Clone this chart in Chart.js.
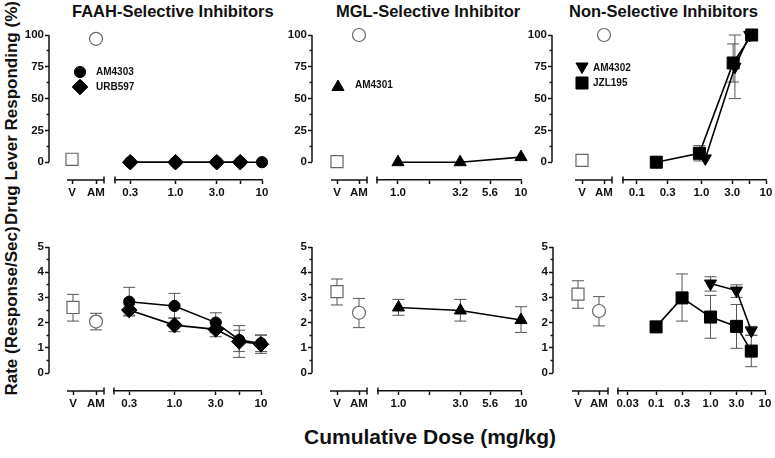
<!DOCTYPE html>
<html><head><meta charset="utf-8">
<script src="https://cdn.jsdelivr.net/npm/chart.js@4.4.1/dist/chart.umd.min.js"></script>
<style>
html,body{margin:0;padding:0;background:#fff;}
#stage{position:relative;width:775px;height:458px;overflow:hidden;background:#fff;font-family:"Liberation Sans",Arial,sans-serif;}
#stage canvas{position:absolute;}
.txt{position:absolute;font-weight:bold;color:#111;white-space:nowrap;}
.ttl{top:3px;font-size:16.5px;line-height:16px;}
.ylab{width:300px;left:-138px;text-align:center;font-size:17px;line-height:20px;transform:rotate(-90deg);}
</style></head>
<body><div id="stage">
<div class="txt ttl" style="left:72px;">FAAH-Selective Inhibitors</div>
<div class="txt ttl" style="left:336px;">MGL-Selective Inhibitor</div>
<div class="txt ttl" style="left:569px;">Non-Selective Inhibitors</div>
<div class="txt ylab" style="top:103px;">Drug Lever Responding (%)</div>
<div class="txt ylab" style="top:301px;">Rate (Response/Sec)</div>
<div class="txt" style="left:230px;width:400px;text-align:center;top:425px;font-size:21px;line-height:24px;">Cumulative Dose (mg/kg)</div>
</div>
<script>
// ---------------- DATA ----------------
const ctrlLabels = ["V", "AM"];
const ctrlX = [0, 1];

const pctTicks = [0, 25, 50, 75, 100];
const pctMinorTicks = [12.5, 37.5, 62.5, 87.5];
const rateTicks = [0, 1, 2, 3, 4, 5];
const rateMinorTicks = [0.5, 1.5, 2.5, 3.5, 4.5];

const faahTicks = [0.3, 1, 3, 5.6, 10];
const faahTickLabels = ["0.3", "1.0", "3.0", "", "10"];
const mglTicks = [1, 1.8, 3.2, 5.6, 10];
const mglTickLabelsTop = ["1.0", "", "3.2", "5.6", "10"];
const mglTickLabelsBottom = ["1.0", "", "3.0", "5.6", "10"];
const nsTicksTop = [0.1, 0.3, 1, 3, 5.6, 10];
const nsTickLabelsTop = ["0.1", "0.3", "1.0", "3.0", "", "10"];
const nsTicksBottom = [0.03, 0.1, 0.3, 1, 3, 5.6, 10];
const nsTickLabelsBottom = ["0.03", "0.1", "0.3", "1.0", "3.0", "", "10"];

// Top row: drug lever responding (%)
const faahDose = [0.3, 1.0, 3.0, 5.6, 10];
const faahURB597DoseTop = [0.3, 1.0, 3.0, 5.6];
const faahCtrlPct = [2.3, 97];
const faahAM4303Pct = [0, 0, 0, 0, 0];
const faahURB597Pct = [0, 0, 0, 0];

const mglDose = [1.0, 3.2, 10];
const mglCtrlPct = [0.5, 100];
const mglAM4301Pct = [0, 0, 4];

const nsCtrlPct = [1.5, 100];
const nsJZL195DoseTop = [0.2, 0.93, 3.1, 6.0];
const nsJZL195Pct = [0, 7, 78, 100];
const nsJZL195PctErr = [null, [1, 13], [63, 93], null];
const nsAM4302DoseTop = [1.15, 3.3, 5.6];
const nsAM4302Pct = [3, 75, 100];
const nsAM4302PctErr = [null, [50, 100], null];

// Bottom row: rate (response/sec)
const faahCtrlRate = [2.6, 2.04];
const faahCtrlRateErr = [[2.06, 3.12], [1.71, 2.37]];
const faahAM4303Rate = [2.83, 2.66, 2.0, 1.31, 1.18];
const faahAM4303RateErr = [[2.26, 3.4], [2.18, 3.16], [1.61, 2.39], [0.62, 1.88], [0.85, 1.5]];
const faahURB597Rate = [2.5, 1.9, 1.73, 1.25, 1.14];
const faahURB597RateErr = [[2.3, 2.7], [1.64, 2.18], [1.44, 2.02], [0.85, 1.7], [0.78, 1.51]];

const mglCtrlRate = [3.23, 2.39];
const mglCtrlRateErr = [[2.7, 3.73], [1.8, 2.96]];
const mglAM4301Rate = [2.6, 2.48, 2.1];
const mglAM4301RateErr = [[2.29, 2.92], [2.06, 2.92], [1.61, 2.63]];

const nsCtrlRate = [3.13, 2.46];
const nsCtrlRateErr = [[2.57, 3.66], [1.87, 3.03]];
const nsJZL195DoseBottom = [0.1, 0.3, 1.0, 3.0, 5.6];
const nsJZL195Rate = [1.83, 2.98, 2.22, 1.85, 0.87];
const nsJZL195RateErr = [null, [2.06, 3.93], [1.38, 3.08], [0.98, 2.72], [0.25, 1.49]];
const nsAM4302DoseBottom = [1.0, 3.0, 5.6];
const nsAM4302Rate = [3.55, 3.27, 1.68];
const nsAM4302RateErr = [[3.25, 3.82], [3.0, 3.5], [1.5, 1.85]];

// ---------------- STYLE / LAYOUT ----------------
Chart.defaults.font.family = '"Liberation Sans", Arial, sans-serif';
Chart.defaults.font.weight = 'bold';
Chart.defaults.color = '#111';

const markers = {
  AM4303: {style: 'circle', r: 5.6, rot: 0},
  URB597: {style: 'rectRot', r: 7.8, rot: 0},
  AM4301: {style: 'triangle', r: 7, rot: 0},
  AM4302: {style: 'triangle', r: 7, rot: 180},
  JZL195: {style: 'rect', r: 8.5, rot: 0}
};
const AXW = 36, PADL = 4, PADR_LEFT = 70, PADLR = 14, XH = 26;
const TICKFONT = {size: 11.5, weight: 'bold'};
const AXCOL = '#111', ERRCOL = '#555';

const rowGeom = {
  top: {canvasTop: 0, areaTop: 22, areaBottom: 180, zeroPx: 162.2, refVal: 100, refPx: 35, axisMax: 100,
        ticks: pctTicks, minor: pctMinorTicks},
  bottom: {canvasTop: 215, areaTop: 237, areaBottom: 391, zeroPx: 373, refVal: 5, refPx: 247, axisMax: 5,
        ticks: rateTicks, minor: rateMinorTicks}
};

const panels = [
  {row: 'top', yAxisX: 49, vPx: 72, amPx: 96, seg: [67, 104], right: [115, 262], dose: [0.2, 10],
   ticks: faahTicks, tickLabels: faahTickLabels, ctrl: faahCtrlPct, ctrlErr: null,
   series: [{name: 'URB597', x: faahURB597DoseTop, y: faahURB597Pct, err: null},
            {name: 'AM4303', x: faahDose, y: faahAM4303Pct, err: null}],
   legend: [{name: 'AM4303', mx: 80, my: 72, tx: 96, ty: 72}, {name: 'URB597', mx: 80, my: 87, tx: 96, ty: 87}]},
  {row: 'top', yAxisX: 312, vPx: 337, amPx: 359, seg: [331, 367], right: [377, 521], dose: [0.675, 10],
   ticks: mglTicks, tickLabels: mglTickLabelsTop, ctrl: mglCtrlPct, ctrlErr: null,
   series: [{name: 'AM4301', x: mglDose, y: mglAM4301Pct, err: null}],
   legend: [{name: 'AM4301', mx: 338, my: 87, tx: 355, ty: 85}]},
  {row: 'top', yAxisX: 552, vPx: 582, amPx: 604, seg: [575, 612], right: [623, 766], dose: [0.061, 10],
   ticks: nsTicksTop, tickLabels: nsTickLabelsTop, ctrl: nsCtrlPct, ctrlErr: null,
   series: [{name: 'JZL195', x: nsJZL195DoseTop, y: nsJZL195Pct, err: nsJZL195PctErr},
            {name: 'AM4302', x: nsAM4302DoseTop, y: nsAM4302Pct, err: nsAM4302PctErr}],
   legend: [{name: 'AM4302', mx: 582, my: 66.5, tx: 593, ty: 68}, {name: 'JZL195', mx: 582, my: 83, tx: 593, ty: 83}]},
  {row: 'bottom', yAxisX: 49, vPx: 73, amPx: 96, seg: [67, 104], right: [114, 261], dose: [0.2, 10],
   ticks: faahTicks, tickLabels: faahTickLabels, ctrl: faahCtrlRate, ctrlErr: faahCtrlRateErr,
   series: [{name: 'URB597', x: faahDose, y: faahURB597Rate, err: faahURB597RateErr},
            {name: 'AM4303', x: faahDose, y: faahAM4303Rate, err: faahAM4303RateErr}],
   legend: []},
  {row: 'bottom', yAxisX: 312, vPx: 337, amPx: 359, seg: [330, 367], right: [378, 521], dose: [0.68, 10],
   ticks: mglTicks, tickLabels: mglTickLabelsBottom, ctrl: mglCtrlRate, ctrlErr: mglCtrlRateErr,
   series: [{name: 'AM4301', x: mglDose, y: mglAM4301Rate, err: mglAM4301RateErr}],
   legend: []},
  {row: 'bottom', yAxisX: 553, vPx: 578, amPx: 599, seg: [572, 608], right: [618, 765], dose: [0.02, 10],
   ticks: nsTicksBottom, tickLabels: nsTickLabelsBottom, ctrl: nsCtrlRate, ctrlErr: nsCtrlRateErr,
   series: [{name: 'JZL195', x: nsJZL195DoseBottom, y: nsJZL195Rate, err: nsJZL195RateErr},
            {name: 'AM4302', x: nsAM4302DoseBottom, y: nsAM4302Rate, err: nsAM4302RateErr}],
   legend: []}
];

// ---------------- HELPERS ----------------
const stage = document.getElementById('stage');
function addCanvas(left, top, w, h) {
  const c = document.createElement('canvas');
  c.width = w; c.height = h;
  c.style.left = left + 'px'; c.style.top = top + 'px';
  c.style.width = w + 'px'; c.style.height = h + 'px';
  stage.appendChild(c);
  return c;
}
function yRange(g) {
  const ppu = (g.zeroPx - g.refPx) / g.refVal;
  return {min: -(g.areaBottom - g.zeroPx) / ppu, max: (g.zeroPx - g.areaTop) / ppu};
}
function drawErrorBars(chart) {
  const ctx = chart.ctx, ys = chart.scales.y;
  chart.data.datasets.forEach((ds, i) => {
    if (!ds.errorBars) return;
    const meta = chart.getDatasetMeta(i);
    meta.data.forEach((pt, j) => {
      const e = ds.errorBars[j];
      if (!e) return;
      const x = pt.x, y1 = ys.getPixelForValue(e[0]), y2 = ys.getPixelForValue(e[1]);
      ctx.save();
      ctx.strokeStyle = ERRCOL; ctx.lineWidth = 1;
      ctx.beginPath();
      ctx.moveTo(x, y1); ctx.lineTo(x, y2);
      ctx.moveTo(x - 6, y1); ctx.lineTo(x + 6, y1);
      ctx.moveTo(x - 6, y2); ctx.lineTo(x + 6, y2);
      ctx.stroke();
      ctx.restore();
    });
  });
}
function drawMarker(ctx, m, x, y) {
  const r = m.r, rot = (m.rot || 0) * Math.PI / 180;
  ctx.beginPath();
  if (m.style === 'circle') {
    ctx.arc(x, y, r, 0, Math.PI * 2);
  } else if (m.style === 'rect') {
    const s = r * Math.SQRT1_2;
    ctx.rect(x - s, y - s, 2 * s, 2 * s);
  } else if (m.style === 'rectRot') {
    ctx.moveTo(x, y - r); ctx.lineTo(x + r, y); ctx.lineTo(x, y + r); ctx.lineTo(x - r, y);
    ctx.closePath();
  } else if (m.style === 'triangle') {
    let a = rot;
    ctx.moveTo(x + Math.sin(a) * r, y - Math.cos(a) * r);
    a += 2 * Math.PI / 3;
    ctx.lineTo(x + Math.sin(a) * r, y - Math.cos(a) * r);
    a += 2 * Math.PI / 3;
    ctx.lineTo(x + Math.sin(a) * r, y - Math.cos(a) * r);
    ctx.closePath();
  }
  ctx.fill();
  ctx.stroke();
}
function seriesDataset(s) {
  const m = markers[s.name];
  return {
    label: s.name,
    data: s.x.map((x, i) => ({x: x, y: s.y[i]})),
    errorBars: s.err,
    showLine: true, borderColor: '#000', borderWidth: 1.6,
    pointStyle: m.style, pointRotation: m.rot, pointRadius: m.r,
    pointBackgroundColor: '#000', pointBorderColor: '#000', pointBorderWidth: 1,
    clip: false
  };
}
function tickOpts(labels) {
  return {font: TICKFONT, color: AXCOL, autoSkip: false, maxRotation: 0, minRotation: 0,
          callback: (v, i) => labels[i]};
}

// ---------------- BUILD ----------------
panels.forEach((p, pi) => {
  const g = rowGeom[p.row];
  const yr = yRange(g);
  const ch = g.areaBottom - g.canvasTop + XH;
  const padTop = g.areaTop - g.canvasTop;

  // ---- left sub-chart (V / AM) ----
  const areaL = p.yAxisX, areaR = p.seg[1] + 3;
  const unit = p.amPx - p.vPx;
  const xMin = -(p.vPx - areaL) / unit, xMax = 1 + (areaR - p.amPx) / unit;
  const segA = (p.seg[0] - p.vPx) / unit, segB = (p.seg[1] - p.vPx) / unit;
  const cl = areaL - AXW - PADL, cw = (areaR - areaL) + AXW + PADL + PADR_LEFT;
  const lc = addCanvas(cl, g.canvasTop, cw, ch);
  const yLabels = g.ticks.map(String);
  const leftDecor = {
    id: 'leftDecor' + pi,
    beforeDatasetsDraw(chart) {
      const ctx = chart.ctx, xs = chart.scales.x, ys = chart.scales.y;
      ctx.save();
      ctx.strokeStyle = AXCOL; ctx.lineWidth = 1.5;
      const ax = chart.chartArea.left;
      ctx.beginPath();
      ctx.moveTo(ax, ys.getPixelForValue(0)); ctx.lineTo(ax, ys.getPixelForValue(g.axisMax));
      ctx.stroke();
      const xy = xs.top;
      const xa = xs.getPixelForValue(segA), xb = xs.getPixelForValue(segB);
      ctx.beginPath();
      ctx.moveTo(xa, xy); ctx.lineTo(xb, xy);
      ctx.moveTo(xb, xy - 3.5); ctx.lineTo(xb, xy + 3.5);
      ctx.stroke();
      ctx.restore();
      drawErrorBars(chart);
    },
    afterDatasetsDraw(chart) {
      const ctx = chart.ctx;
      p.legend.forEach(it => {
        ctx.save();
        ctx.fillStyle = '#000'; ctx.strokeStyle = '#000'; ctx.lineWidth = 1;
        drawMarker(ctx, markers[it.name], it.mx - cl, it.my - g.canvasTop);
        ctx.font = 'bold 10px "Liberation Sans", Arial, sans-serif';
        ctx.textBaseline = 'middle'; ctx.textAlign = 'left'; ctx.fillStyle = '#111';
        ctx.fillText(it.name, it.tx - cl, it.ty - g.canvasTop);
        ctx.restore();
      });
    }
  };
  new Chart(lc, {
    type: 'scatter',
    data: {datasets: [{
      label: 'Controls',
      data: ctrlX.map((x, i) => ({x: x, y: p.ctrl[i]})),
      errorBars: p.ctrlErr,
      showLine: false,
      pointStyle: ['rect', 'circle'], pointRadius: [8.5, 6.5],
      pointBackgroundColor: '#fff', pointBorderColor: '#666', pointBorderWidth: 1.2,
      clip: false
    }]},
    options: {
      responsive: false, animation: false, devicePixelRatio: 1,
      layout: {padding: {left: PADL, right: PADR_LEFT, top: padTop, bottom: 0}},
      plugins: {legend: {display: false}, tooltip: {enabled: false}},
      scales: {
        x: {type: 'linear', min: xMin, max: xMax,
            afterBuildTicks: s => { s.ticks = ctrlX.map(v => ({value: v})); },
            afterFit: s => { s.height = XH; },
            border: {display: false},
            grid: {drawOnChartArea: false, drawTicks: true, tickLength: 4, tickColor: AXCOL, tickWidth: 1.5},
            ticks: Object.assign(tickOpts(ctrlLabels), {padding: 2})},
        y: {type: 'linear', position: 'left', weight: 10, min: yr.min, max: yr.max,
            afterBuildTicks: s => { s.ticks = g.ticks.map(v => ({value: v})); },
            afterFit: s => { s.width = AXW; },
            border: {display: false},
            grid: {drawOnChartArea: false, drawTicks: true, tickLength: 4, tickColor: AXCOL, tickWidth: 1.5},
            ticks: Object.assign(tickOpts(yLabels), {padding: 1})},
        yMinor: {type: 'linear', position: 'left', weight: 0, min: yr.min, max: yr.max,
            afterBuildTicks: s => { s.ticks = g.minor.map(v => ({value: v})); },
            afterFit: s => { s.width = 0; },
            border: {display: false},
            grid: {drawOnChartArea: false, drawTicks: true, tickLength: 2.5, tickColor: AXCOL, tickWidth: 1.5},
            ticks: {display: false}}
      }
    },
    plugins: [leftDecor]
  });

  // ---- right sub-chart (dose, log) ----
  const [L, R] = p.right;
  const rc = addCanvas(L - PADLR, g.canvasTop, R - L + 2 * PADLR, ch);
  const rightDecor = {
    id: 'rightDecor' + pi,
    beforeDatasetsDraw(chart) {
      const ctx = chart.ctx, xs = chart.scales.x;
      ctx.save();
      ctx.strokeStyle = AXCOL; ctx.lineWidth = 1.5;
      const x0 = chart.chartArea.left;
      ctx.beginPath();
      ctx.moveTo(x0, xs.top - 3.5); ctx.lineTo(x0, xs.top + 3.5);
      ctx.stroke();
      ctx.restore();
      drawErrorBars(chart);
    }
  };
  new Chart(rc, {
    type: 'scatter',
    data: {datasets: p.series.map(seriesDataset)},
    options: {
      responsive: false, animation: false, devicePixelRatio: 1,
      layout: {padding: {left: PADLR, right: PADLR, top: padTop, bottom: 0}},
      plugins: {legend: {display: false}, tooltip: {enabled: false}},
      scales: {
        x: {type: 'logarithmic', min: p.dose[0], max: p.dose[1],
            afterBuildTicks: s => { s.ticks = p.ticks.map(v => ({value: v})); },
            afterFit: s => { s.height = XH; },
            border: {display: true, color: AXCOL, width: 1.5},
            grid: {drawOnChartArea: false, drawTicks: true, tickLength: 4, tickColor: AXCOL, tickWidth: 1.5},
            ticks: Object.assign(tickOpts(p.tickLabels), {padding: 2})},
        y: {type: 'linear', display: false, min: yr.min, max: yr.max}
      }
    },
    plugins: [rightDecor]
  });
});
</script>
</body></html>
